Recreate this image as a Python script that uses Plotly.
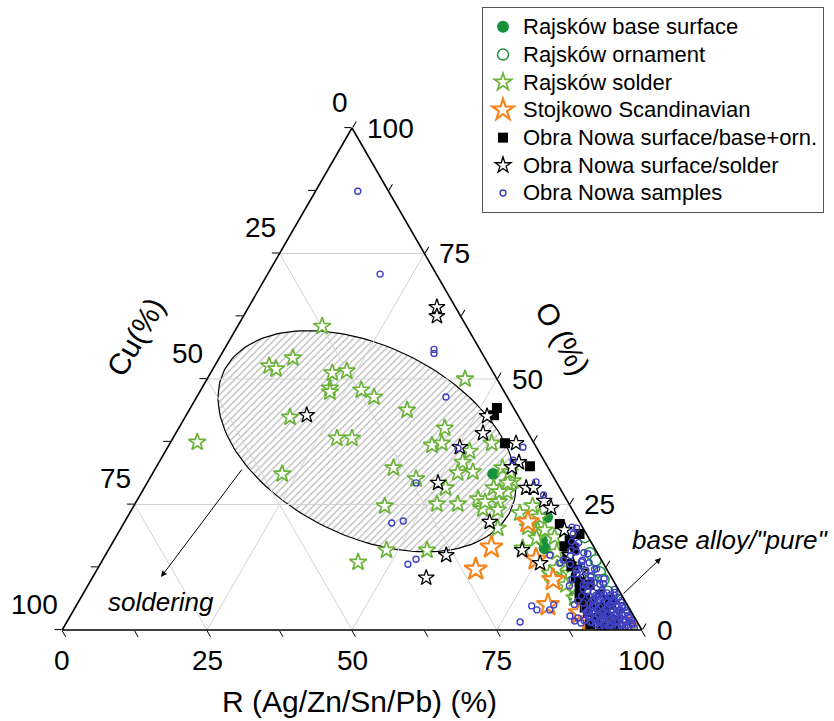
import math
import plotly.graph_objects as go

# ---------------- data (composition in %, Cu = 100 - R - O is inferred by the ternary sum) -------------
raj_base_R = [58.8, 72.4, 73.8, 75.1, 85.0]
raj_base_O = [31.1, 22.5, 17.9, 16.3, 6.6]

raj_orn_R = [80.9, 83.4, 84.0, 87.0, 88.4, 90.3, 93.6, 94.0, 97.7, 99.6, 97.1, 94.3, 85.1]
raj_orn_O = [18.5, 15.3, 11.5, 11.5, 10.0, 7.6, 6.0, 4.4, 0.4, 0.3, 0.0, 2.0, 13.9]

raj_sol_R = [14.6, 12.7, 9.4, 10.9, 21.0, 23.3, 22.1, 22.5, 27.7, 30.6, 18.1, 28.3, 30.9, 4.6,
             22.4, 44.3, 48.0, 55.0, 44.5, 37.6, 45.9, 45.4, 46.9, 52.5, 55.5, 52.4, 41.0, 46.0,
             52.0, 52.6, 55.1, 59.8, 62.9, 60.3, 63.0, 43.3, 52.1, 55.7, 58.7, 60.5, 62.6, 65.0,
             67.3, 68.8, 71.3, 72.1, 79.0, 62.2, 60.2, 70.1, 71.1, 72.7, 73.3, 77.6, 78.5, 81.9,
             61.7, 63.2, 75.7, 79.2, 81.6, 61.5, 82.4, 85.2]
raj_sol_O = [60.5, 54.2, 52.6, 52.0, 51.2, 51.6, 48.2, 47.4, 47.8, 46.4, 42.4, 38.2, 38.2, 37.4,
             31.1, 13.5, 15.9, 15.9, 50.0, 43.8, 40.2, 36.8, 37.2, 35.6, 37.2, 33.4, 32.3, 30.1,
             28.3, 31.3, 31.5, 32.3, 29.7, 28.3, 27.5, 24.7, 25.1, 25.1, 26.1, 24.1, 25.5, 20.3,
             23.3, 24.7, 16.3, 19.9, 10.9, 29.3, 25.5, 20.5, 22.5, 18.3, 19.9, 15.5, 11.3, 11.3,
             27.5, 23.9, 18.5, 12.3, 12.9, 31.5, 9.0, 6.4]

stoj_R = [69.6, 65.8, 65.3, 74.7, 79.7, 81.3, 87.6, 90.0, 92.1, 94.2, 96.0, 97.3, 91.4]
stoj_O = [21.5, 16.5, 12.1, 14.1, 10.0, 5.0, 3.4, 2.0, 1.4, 0.6, 0.4, 0.6, 1.0]

obra_base_R = [52.9, 53.1, 57.8, 64.4, 75.3, 79.7, 78.3, 79.8, 81.5, 83.4, 85.3, 87.0, 88.9,
               90.8, 92.5, 80.2, 86.5, 89.3, 91.5, 78.6, 90.7, 88.9,
               94.5, 92.8, 90.5, 87.9, 86.0, 84.5, 82.8, 92.0, 89.8]
obra_base_O = [44.2, 42.8, 37.2, 32.6, 21.1, 19.1, 16.7, 14.7, 12.7, 10.4, 8.0, 6.4, 5.0,
               4.0, 3.2, 16.3, 9.0, 7.0, 6.0, 17.9, 2.4, 3.6,
               1.2, 0.8, 1.2, 4.5, 6.5, 9.5, 12.0, 4.5, 5.5]

obra_sol_R = [32.5, 33.4, 52.0, 53.0, 59.7, 50.4, 62.1, 61.4, 50.2, 65.9, 67.2, 70.3, 72.2,
              63.0, 58.8, 71.4, 75.8, 57.6, 20.8, 80.1, 83.5, 89.4, 93.5, 76.7]
obra_sol_O = [64.3, 62.5, 42.6, 39.2, 37.2, 36.4, 33.4, 32.4, 29.3, 28.3, 28.3, 25.7, 24.3,
              21.5, 14.9, 15.9, 13.3, 10.4, 42.8, 14.9, 11.5, 6.0, 3.6, 19.9]

obra_smp_R = [7.3, 19.4, 36.2, 36.6, 43.0, 61.3, 50.2, 46.4, 46.2, 48.0, 53.1, 54.0, 60.9,
              67.0, 69.6, 77.7, 79.5, 79.2, 76.7, 86.2, 87.5, 87.8, 88.8, 82.3, 82.1, 78.6,
              78.2, 79.9, 78.6,
              80.2, 79.8, 83.1, 80.3, 82.8, 83.2, 81.1, 86.1, 82.7, 85.8, 83.2, 86.3, 82.9,
              88.8, 85.9, 83.1, 89.2, 85.8, 91.8, 88.9, 86.2, 92.1, 88.8, 86.1, 94.2, 91.9,
              89.1, 85.8, 94.1, 91.8, 88.9, 96.2, 93.9, 91.8, 88.9, 95.8, 94.1, 92.2, 89.1,
              97.8, 96.1, 93.8, 92.2, 97.4, 95.6, 93.4, 93.6, 91.2, 88.4, 95.4, 97.3, 90.1,
              87.2, 86.9, 87.1, 90.6,
              98.5, 96.8, 95.2, 93.9, 92.6, 97.6, 96.3, 94.7, 93.2, 91.7, 90.4, 96.6, 95.1,
              93.6, 92.4, 90.8, 89.5, 95.7, 94.4, 92.9, 91.3, 90.1, 88.7, 94.8, 93.3, 91.9,
              90.5, 89.2, 87.9, 93.7, 92.4, 91.1, 89.6, 88.4, 92.8, 91.4, 90.2, 88.9, 87.6,
              91.6, 90.3, 89.1, 87.8, 88.2, 86.7, 85.4, 87.3, 85.9, 84.6, 85.8, 84.4, 83.1,
              84.2, 82.8, 82.3, 80.9, 80.4, 79.1, 78.6,
              97.1, 95.9, 94.3, 92.9, 91.4, 96.1, 94.8, 93.4, 92.0, 90.6, 95.2, 93.9, 92.6,
              91.0, 89.8, 94.2, 92.9, 91.6, 90.3, 88.9, 93.1, 91.9, 90.6, 89.4, 92.2, 90.9,
              89.7, 88.5, 91.1, 89.9, 88.6]
obra_smp_O = [87.4, 70.9, 55.9, 55.1, 46.4, 36.4, 36.2, 29.3, 21.3, 21.7, 13.1, 14.1, 33.8,
              29.5, 26.9, 20.5, 13.9, 13.3, 14.9, 2.8, 1.8, 2.4, 1.4, 5.0, 4.0, 4.8,
              1.6, 4.0, 20.3,
              16.8, 15.9, 15.2, 14.8, 13.9, 12.8, 13.1, 12.2, 11.9, 10.8, 11.2, 9.8, 10.1,
              9.2, 8.9, 8.8, 7.9, 8.2, 6.9, 7.2, 6.8, 5.9, 6.1, 5.8, 4.9, 5.2, 4.8, 5.1,
              3.9, 4.2, 3.8, 2.9, 3.1, 2.8, 3.2, 2.1, 1.8, 2.2, 1.9, 1.1, 0.9, 1.2, 0.8,
              0.5, 0.6, 0.4, 5.9, 8.1, 10.2, 3.9, 1.9, 3.6, 5.4, 7.6, 9.4, 1.6,
              0.4, 0.6, 0.5, 0.7, 0.3, 1.4, 1.6, 1.5, 1.3, 1.7, 1.5, 2.5, 2.4,
              2.6, 2.5, 2.3, 2.7, 3.5, 3.4, 3.6, 3.5, 3.3, 3.7, 4.5, 4.6, 4.4,
              4.5, 4.7, 4.3, 5.5, 5.4, 5.6, 5.5, 5.3, 6.5, 6.6, 6.4, 6.5, 6.7,
              7.5, 7.4, 7.6, 7.5, 9.1, 8.9, 9.0, 10.4, 10.6, 10.5, 12.1, 11.9, 12.0,
              13.4, 13.6, 15.4, 15.6, 17.4, 17.6, 19.1,
              1.0, 1.1, 0.9, 1.0, 1.2, 2.0, 1.9, 2.1, 2.0, 2.2, 3.0, 2.9, 3.1,
              3.0, 2.8, 4.0, 4.1, 3.9, 4.0, 4.2, 5.0, 5.1, 4.9, 5.0, 6.0, 5.9,
              6.1, 6.0, 7.0, 7.1, 6.9]

tick_vals = [0, 25, 50, 75, 100]
minor_tick_vals = [0, 12.5, 25, 37.5, 50, 62.5, 75, 87.5, 100]
grid_vals = [25, 50, 75]

# shaded "soldering" field (decorative ellipse), centre given as a composition
ell_center_R, ell_center_O = 33.8, 37.6
ell_semi_major, ell_semi_minor, ell_tilt_deg = 27.5, 16.4, -26.2

# ---------------- layout geometry ----------------
FONT = "Liberation Sans, Arial, sans-serif"
W, H = 834, 721
ML, MR, MT, MB = 62, 192, 128, 91
PW, PH = W - ML - MR, H - MT - MB
S = min(PW, PH * 2 / math.sqrt(3))
ppu = S / 100.0
xpad = (PW - S) / 2 / ppu
ypad = (PH - S * math.sqrt(3) / 2) / 2 / ppu
x_range = [-xpad, 100 + xpad]
y_range = [-ypad, PH / ppu - ypad]
R3 = math.sqrt(3) / 2


def tern_xy(r, o):
    return r + o / 2.0, o * R3


fig = go.Figure()

# hatched ellipse on an invisible cartesian overlay aligned with the ternary
cx, cy = tern_xy(ell_center_R, ell_center_O)
th = math.radians(ell_tilt_deg)
ex, ey = [], []
for i in range(161):
    t = 2 * math.pi * i / 160
    ex.append(cx + ell_semi_major * math.cos(t) * math.cos(th) - ell_semi_minor * math.sin(t) * math.sin(th))
    ey.append(cy + ell_semi_major * math.cos(t) * math.sin(th) + ell_semi_minor * math.sin(t) * math.cos(th))
fig.add_trace(go.Scatter(
    x=ex, y=ey, mode="lines", fill="toself", fillcolor="white",
    fillpattern=dict(shape="/", size=5, solidity=0.25, fgcolor="#707070", bgcolor="white"),
    line=dict(color="black", width=1.2), showlegend=False, hoverinfo="skip"))

# grid lines at 25/50/75 in the three directions
ga, gc = [], []
for v in grid_vals:
    ga += [v, v, None]; gc += [0, 100 - v, None]          # O = v
    ga += [100 - v, 0, None]; gc += [0, 100 - v, None]    # Cu = v
    ga += [100 - v, 0, None]; gc += [v, v, None]          # R = v
fig.add_trace(go.Scatterternary(a=ga, c=gc, mode="lines", line=dict(color="#d3d3d3", width=1),
                                showlegend=False, hoverinfo="skip", connectgaps=False))

GREEN = "#17913a"
LGREEN = "#6cb33a"
ORANGE = "#f5841f"
BLUE = "#4040c4"


def lg(name):
    return '<span style="font-size:22px">' + name + '</span>'


fig.add_trace(go.Scatterternary(a=raj_base_O, c=raj_base_R, mode="markers", name=lg("Rajsków base surface"),
                                marker=dict(symbol="circle", size=12, color=GREEN, line=dict(width=0))))
fig.add_trace(go.Scatterternary(a=raj_orn_O, c=raj_orn_R, mode="markers", name=lg("Rajsków ornament"),
                                marker=dict(symbol="circle", size=11, color="white", line=dict(color=GREEN, width=1.5))))
fig.add_trace(go.Scatterternary(a=raj_sol_O, c=raj_sol_R, mode="markers", name=lg("Rajsków solder"),
                                marker=dict(symbol="star", size=13, color="white", line=dict(color=LGREEN, width=1.7))))
fig.add_trace(go.Scatterternary(a=stoj_O, c=stoj_R, mode="markers", name=lg("Stojkowo Scandinavian"),
                                marker=dict(symbol="star", size=17, color="white", line=dict(color=ORANGE, width=2.2))))
fig.add_trace(go.Scatterternary(a=obra_base_O, c=obra_base_R, mode="markers", name=lg("Obra Nowa surface/base+orn."),
                                marker=dict(symbol="square", size=10, color="black", line=dict(width=0))))
fig.add_trace(go.Scatterternary(a=obra_sol_O, c=obra_sol_R, mode="markers", name=lg("Obra Nowa surface/solder"),
                                marker=dict(symbol="star", size=12, color="white", line=dict(color="black", width=1.3))))
fig.add_trace(go.Scatterternary(a=obra_smp_O, c=obra_smp_R, mode="markers", name=lg("Obra Nowa samples"),
                                marker=dict(symbol="circle-open", size=6, color=BLUE, line=dict(color=BLUE, width=1.4))))

axis_common = dict(tickmode="array", tickvals=minor_tick_vals, showticklabels=False, ticks="outside",
                   ticklen=7, tickwidth=1.2, tickcolor="black", showline=True, linecolor="black",
                   linewidth=1.6, showgrid=False, title=dict(text=""))

annotations = []
tf = dict(family=FONT, size=28, color="black")
for v in tick_vals:
    # bottom: R
    x, y = tern_xy(v, 0)
    annotations.append(dict(x=x, y=y, xref="x", yref="y", text=str(v), showarrow=False, font=tf,
                            xanchor="center", yanchor="middle", yshift=-30))
    # right: O
    x, y = tern_xy(100 - v, v)
    annotations.append(dict(x=x, y=y, xref="x", yref="y", text=str(v), showarrow=False, font=tf,
                            xanchor="left", yanchor="middle", xshift=13))
    # left: Cu
    x, y = tern_xy(0, 100 - v)
    annotations.append(dict(x=x, y=y, xref="x", yref="y", text=str(v), showarrow=False, font=tf,
                            xanchor="right", yanchor="middle", xshift=-2, yshift=26))


def px(xp):
    return (xp - ML) / PW


def py(yp):
    return (H - MB - yp) / PH


titlef = dict(family=FONT, size=30, color="black")
annotations += [
    dict(x=px(359), y=py(701), xref="paper", yref="paper", text="R (Ag/Zn/Sn/Pb) (%)", showarrow=False,
         font=titlef, xanchor="center", yanchor="middle"),
    dict(x=px(135), y=py(337), xref="paper", yref="paper", text="Cu(%)", showarrow=False,
         font=titlef, xanchor="center", yanchor="middle", textangle=-60),
    dict(x=px(563), y=py(338), xref="paper", yref="paper", text="O (%)", showarrow=False,
         font=titlef, xanchor="center", yanchor="middle", textangle=60),
    dict(x=px(161), y=py(602), xref="paper", yref="paper", text="<i>soldering</i>", showarrow=False,
         font=dict(family=FONT, size=26, color="black"), xanchor="center", yanchor="middle"),
    dict(x=px(630), y=py(540), xref="paper", yref="paper", text="<i>base alloy/\"pure\"</i>", showarrow=False,
         font=dict(family=FONT, size=26, color="black"), xanchor="left", yanchor="middle"),
    dict(x=px(161), y=py(577), xref="paper", yref="paper", text="", showarrow=True, arrowhead=2,
         arrowsize=1.2, arrowwidth=1, arrowcolor="black", ax=82, ay=-109),
    dict(x=px(661), y=py(558), xref="paper", yref="paper", text="", showarrow=True, arrowhead=2,
         arrowsize=1.2, arrowwidth=1, arrowcolor="black", ax=-39, ay=37),
]

fig.update_layout(
    width=W, height=H, autosize=False,
    margin=dict(l=ML, r=MR, t=MT, b=MB, pad=0, autoexpand=False),
    paper_bgcolor="white", plot_bgcolor="white",
    font=dict(family=FONT, color="black"),
    xaxis=dict(range=x_range, visible=False, fixedrange=True, domain=[0, 1]),
    yaxis=dict(range=y_range, visible=False, fixedrange=True, domain=[0, 1]),
    ternary=dict(sum=100, domain=dict(x=[0, 1], y=[0, 1]), bgcolor="rgba(0,0,0,0)",
                 aaxis=axis_common, baxis=axis_common, caxis=axis_common),
    legend=dict(x=482 / W, y=1 - 7 / H, xref="container", yref="container", xanchor="left", yanchor="top",
                bordercolor="#555555", borderwidth=1, bgcolor="white",
                font=dict(family=FONT, size=19, color="black"), tracegroupgap=0),
    annotations=annotations,
    showlegend=True,
)

fig.write_html("out.html")
